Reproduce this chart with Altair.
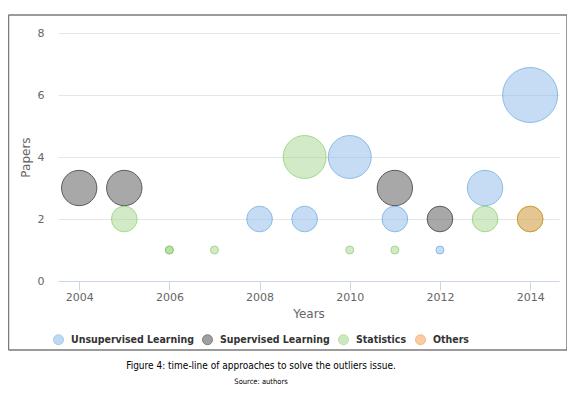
import altair as alt
import pandas as pd

# ---- data ----
unsup_years = [2008, 2009, 2010, 2011, 2012, 2013, 2014]
unsup_vals = [2, 2, 4, 2, 1, 3, 6]
sup_years = [2004, 2005, 2011, 2012]
sup_vals = [3, 3, 3, 2]
stat_years = [2005, 2006, 2006, 2007, 2009, 2010, 2011, 2013, 2014]
stat_vals = [2, 1, 1, 1, 4, 1, 1, 2, 2]
other_years = [2014]
other_vals = [2]

categories = ["Unsupervised Learning", "Supervised Learning", "Statistics", "Others"]
fill_colors = ["#8dbbea", "#525252", "#a5d68d", "#f5a35c"]
stroke_colors = ["#599fe0", "#151515", "#7cc95b", "#ec8013"]
x_ticks = [2004, 2006, 2008, 2010, 2012, 2014]
y_ticks = [0, 2, 4, 6, 8]

caption = "Figure 4: time-line of approaches to solve the outliers issue."
source = "Source: authors"

rows = []
for cat, ys, vs in zip(categories,
                       [unsup_years, sup_years, stat_years, other_years],
                       [unsup_vals, sup_vals, stat_vals, other_vals]):
    for i, (y, v) in enumerate(zip(ys, vs)):
        rows.append({"Category": cat, "Year": y, "Papers": v,
                     "order": categories.index(cat) * 100 + i})
df = pd.DataFrame(rows)

FONT = "DejaVu Sans"
NARROW = "Liberation Sans Narrow, DejaVu Sans Condensed, Liberation Sans"

legend = alt.Legend(title=None, orient="none", direction="horizontal",
                    legendX=-5, legendY=301, symbolType="circle",
                    symbolSize=100, symbolStrokeWidth=1,
                    symbolOpacity=0.55,
                    labelFont=NARROW,
                    labelFontWeight="bold", labelFontSize=10.5,
                    labelColor="#333333", labelOffset=7,
                    columnPadding=6)

bubbles = alt.Chart(df).mark_circle(strokeWidth=1).encode(
    x=alt.X("Year:Q",
            scale=alt.Scale(domain=[2003.53, 2014.64], nice=False, zero=False),
            axis=alt.Axis(values=x_ticks, format="d", title="Years", grid=False,
                          domainColor="#ccd6eb", tickColor="#ccd6eb", tickSize=9,
                          labelPadding=1, labelColor="#666666", labelFontSize=11,
                          labelFont=FONT, titleFont=FONT, titleColor="#666666",
                          titleFontSize=12, titleFontWeight="normal",
                          titleX=250.5, titleY=32, titleBaseline="middle")),
    y=alt.Y("Papers:Q",
            scale=alt.Scale(domain=[0, 8], nice=False),
            axis=alt.Axis(values=y_ticks, title="Papers", grid=True,
                          gridColor="#e6e6e6", domain=False, ticks=False,
                          labelPadding=14, labelColor="#666666", labelFontSize=11,
                          labelFont=FONT, titleFont=FONT, titleColor="#666666",
                          titleFontSize=12, titleFontWeight="normal",
                          titleAngle=-90, titleX=-33, titleY=124,
                          titleAlign="center", titleBaseline="middle")),
    size=alt.Size("Papers:Q",
                  scale=alt.Scale(domain=[1, 6], range=[64, 3025], zero=False),
                  legend=None),
    fill=alt.Fill("Category:N",
                  scale=alt.Scale(domain=categories, range=fill_colors),
                  legend=legend),
    stroke=alt.Stroke("Category:N",
                      scale=alt.Scale(domain=categories, range=stroke_colors),
                      legend=legend),
    fillOpacity=alt.value(0.714),
    strokeOpacity=alt.value(1),
    order=alt.Order("order:Q"),
)

one = pd.DataFrame({"k": [0]})
FR = dict(color="#7a7a7a", strokeWidth=1.5, clip=False)
frame_top = alt.Chart(one).mark_rule(**FR).encode(
    x=alt.value(-49.5), x2=alt.value(509), y=alt.value(-18))
frame_bottom = alt.Chart(one).mark_rule(**FR).encode(
    x=alt.value(-49.5), x2=alt.value(509), y=alt.value(317))
frame_left = alt.Chart(one).mark_rule(**FR).encode(
    x=alt.value(-49.5), y=alt.value(-18), y2=alt.value(317))
frame_right = alt.Chart(one).mark_rule(**FR).encode(
    x=alt.value(509), y=alt.value(-18), y2=alt.value(317))

cap = alt.Chart(pd.DataFrame({"t": [caption]})).mark_text(
    font=NARROW, fontSize=10, color="#000000", align="center", baseline="middle"
).encode(text="t:N", x=alt.value(203), y=alt.value(333))

src = alt.Chart(pd.DataFrame({"t": [source]})).mark_text(
    font=NARROW, fontSize=7.5, color="#000000", align="center", baseline="middle"
).encode(text="t:N", x=alt.value(203), y=alt.value(349))

chart = alt.layer(frame_top, frame_bottom, frame_left, frame_right,
                  bubbles, cap, src).properties(
    width=501, height=248,
    autosize=alt.AutoSizeParams(type="none"),
    padding={"left": 50, "top": 25, "right": 8, "bottom": 105},
    background="white",
).configure_view(stroke=None)

chart.save("out.html", embed_options={"renderer": "svg", "actions": False})
